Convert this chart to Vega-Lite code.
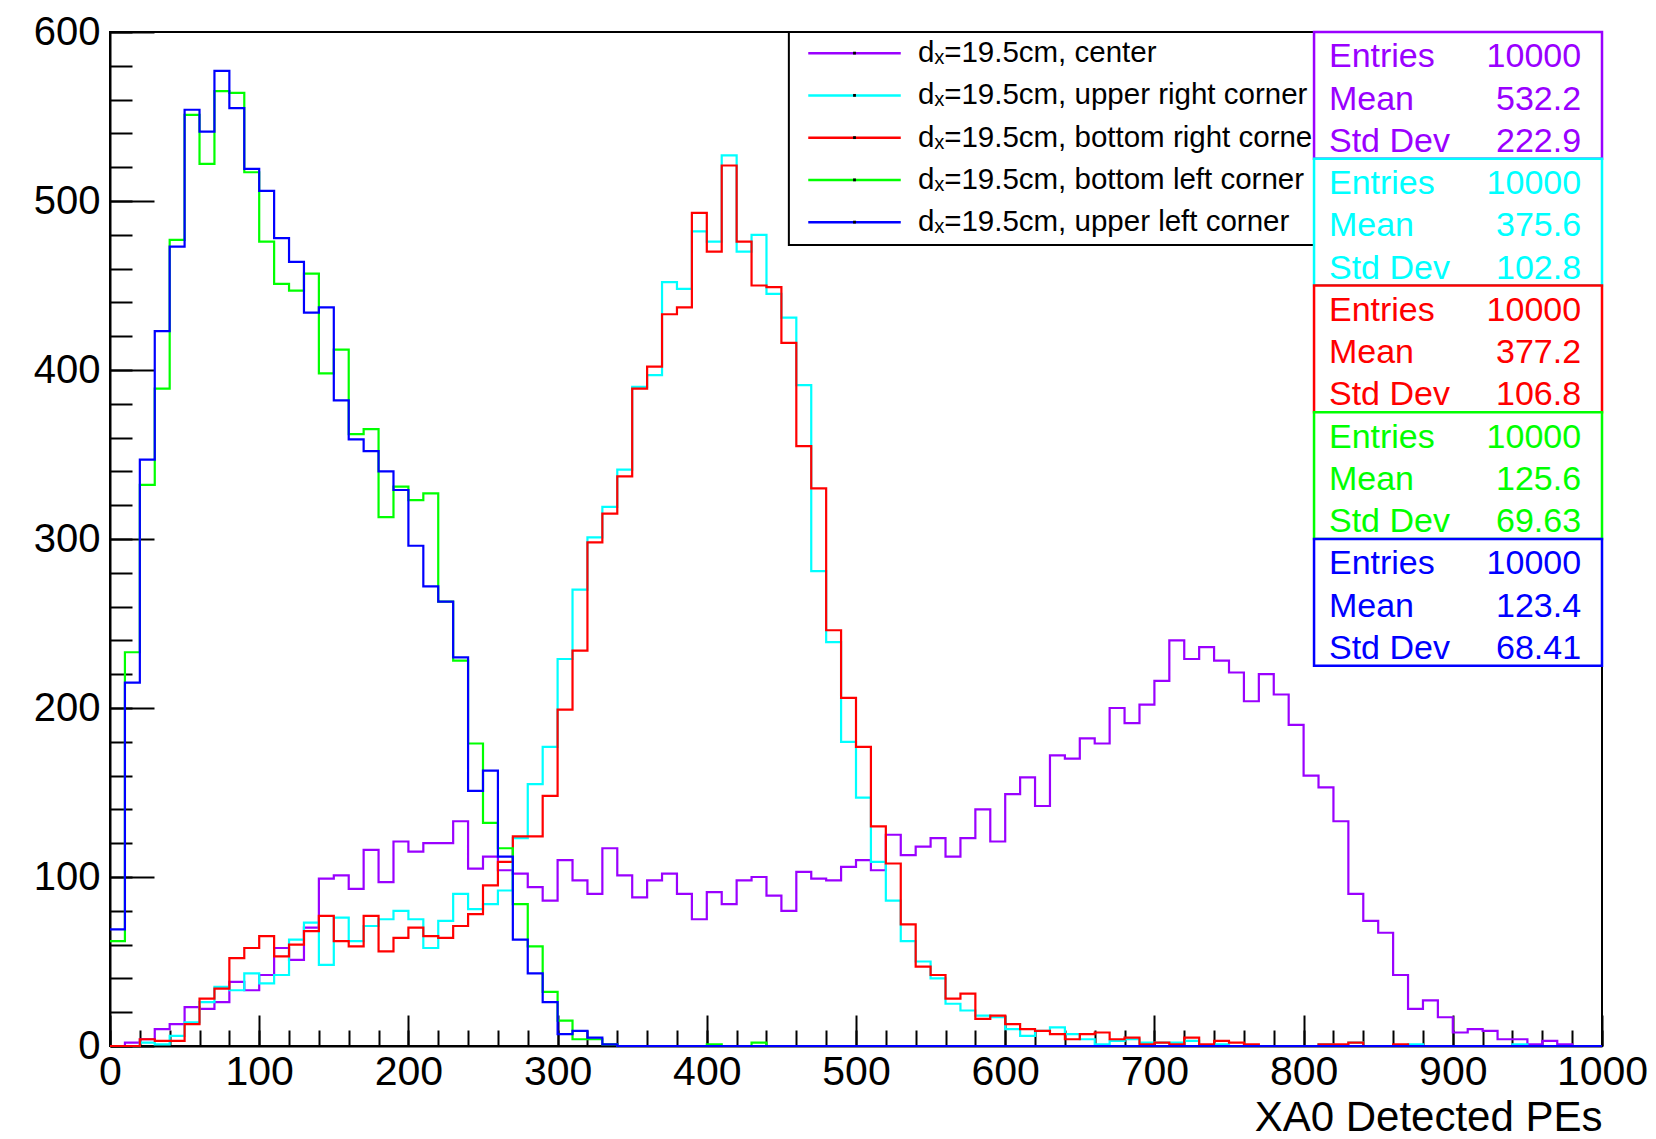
{
  "$schema": "https://vega.github.io/schema/vega-lite/v6.json",
  "width": 1492,
  "height": 1014,
  "autosize": {"type": "none"},
  "padding": {"left": 110, "top": 32, "right": 54, "bottom": 93},
  "background": "white",
  "config": {
    "view": {"stroke": "black", "strokeWidth": 2},
    "font": "Liberation Sans",
    "axis": {"grid": false, "labelFont": "Liberation Sans", "titleFont": "Liberation Sans", "labelColor": "black", "titleColor": "black", "tickColor": "black", "domainColor": "black", "domainWidth": 2, "tickWidth": 2}
  },
  "datasets": {
    "hist": [
      {"pe":0,"center":0,"upper_right":0,"bottom_right":0,"bottom_left":62,"upper_left":69},
      {"pe":10,"center":2,"upper_right":0,"bottom_right":0,"bottom_left":233,"upper_left":215},
      {"pe":20,"center":4,"upper_right":2,"bottom_right":4,"bottom_left":332,"upper_left":347},
      {"pe":30,"center":10,"upper_right":1,"bottom_right":3,"bottom_left":389,"upper_left":423},
      {"pe":40,"center":13,"upper_right":6,"bottom_right":3,"bottom_left":477,"upper_left":473},
      {"pe":50,"center":23,"upper_right":14,"bottom_right":13,"bottom_left":551,"upper_left":554},
      {"pe":60,"center":22,"upper_right":26,"bottom_right":28,"bottom_left":522,"upper_left":541},
      {"pe":70,"center":26,"upper_right":35,"bottom_right":34,"bottom_left":565,"upper_left":577},
      {"pe":80,"center":38,"upper_right":33,"bottom_right":52,"bottom_left":564,"upper_left":555},
      {"pe":90,"center":33,"upper_right":43,"bottom_right":58,"bottom_left":517,"upper_left":519},
      {"pe":100,"center":42,"upper_right":37,"bottom_right":65,"bottom_left":476,"upper_left":506},
      {"pe":110,"center":58,"upper_right":42,"bottom_right":53,"bottom_left":451,"upper_left":478},
      {"pe":120,"center":51,"upper_right":63,"bottom_right":60,"bottom_left":447,"upper_left":464},
      {"pe":130,"center":70,"upper_right":73,"bottom_right":68,"bottom_left":457,"upper_left":434},
      {"pe":140,"center":99,"upper_right":48,"bottom_right":77,"bottom_left":398,"upper_left":437},
      {"pe":150,"center":101,"upper_right":76,"bottom_right":62,"bottom_left":412,"upper_left":382},
      {"pe":160,"center":93,"upper_right":62,"bottom_right":59,"bottom_left":362,"upper_left":359},
      {"pe":170,"center":116,"upper_right":71,"bottom_right":77,"bottom_left":365,"upper_left":352},
      {"pe":180,"center":97,"upper_right":75,"bottom_right":56,"bottom_left":313,"upper_left":340},
      {"pe":190,"center":121,"upper_right":80,"bottom_right":64,"bottom_left":331,"upper_left":329},
      {"pe":200,"center":115,"upper_right":75,"bottom_right":70,"bottom_left":323,"upper_left":296},
      {"pe":210,"center":120,"upper_right":58,"bottom_right":65,"bottom_left":327,"upper_left":272},
      {"pe":220,"center":120,"upper_right":74,"bottom_right":64,"bottom_left":263,"upper_left":263},
      {"pe":230,"center":133,"upper_right":90,"bottom_right":71,"bottom_left":228,"upper_left":230},
      {"pe":240,"center":105,"upper_right":81,"bottom_right":78,"bottom_left":179,"upper_left":151},
      {"pe":250,"center":112,"upper_right":84,"bottom_right":95,"bottom_left":132,"upper_left":163},
      {"pe":260,"center":104,"upper_right":92,"bottom_right":109,"bottom_left":117,"upper_left":112},
      {"pe":270,"center":102,"upper_right":123,"bottom_right":124,"bottom_left":84,"upper_left":63},
      {"pe":280,"center":94,"upper_right":155,"bottom_right":124,"bottom_left":59,"upper_left":43},
      {"pe":290,"center":86,"upper_right":177,"bottom_right":148,"bottom_left":32,"upper_left":26},
      {"pe":300,"center":110,"upper_right":229,"bottom_right":199,"bottom_left":15,"upper_left":7},
      {"pe":310,"center":98,"upper_right":270,"bottom_right":234,"bottom_left":4,"upper_left":9},
      {"pe":320,"center":90,"upper_right":301,"bottom_right":298,"bottom_left":4,"upper_left":5},
      {"pe":330,"center":117,"upper_right":319,"bottom_right":315,"bottom_left":1,"upper_left":1},
      {"pe":340,"center":101,"upper_right":341,"bottom_right":337,"bottom_left":0,"upper_left":0},
      {"pe":350,"center":88,"upper_right":390,"bottom_right":389,"bottom_left":0,"upper_left":0},
      {"pe":360,"center":98,"upper_right":397,"bottom_right":402,"bottom_left":0,"upper_left":0},
      {"pe":370,"center":102,"upper_right":452,"bottom_right":433,"bottom_left":0,"upper_left":0},
      {"pe":380,"center":90,"upper_right":448,"bottom_right":437,"bottom_left":0,"upper_left":0},
      {"pe":390,"center":75,"upper_right":482,"bottom_right":493,"bottom_left":0,"upper_left":0},
      {"pe":400,"center":91,"upper_right":476,"bottom_right":470,"bottom_left":1,"upper_left":0},
      {"pe":410,"center":84,"upper_right":527,"bottom_right":521,"bottom_left":0,"upper_left":0},
      {"pe":420,"center":98,"upper_right":470,"bottom_right":476,"bottom_left":0,"upper_left":0},
      {"pe":430,"center":100,"upper_right":480,"bottom_right":450,"bottom_left":2,"upper_left":0},
      {"pe":440,"center":89,"upper_right":445,"bottom_right":449,"bottom_left":0,"upper_left":0},
      {"pe":450,"center":80,"upper_right":431,"bottom_right":416,"bottom_left":0,"upper_left":0},
      {"pe":460,"center":103,"upper_right":391,"bottom_right":355,"bottom_left":0,"upper_left":0},
      {"pe":470,"center":99,"upper_right":281,"bottom_right":330,"bottom_left":0,"upper_left":0},
      {"pe":480,"center":98,"upper_right":239,"bottom_right":246,"bottom_left":0,"upper_left":0},
      {"pe":490,"center":106,"upper_right":180,"bottom_right":206,"bottom_left":0,"upper_left":0},
      {"pe":500,"center":110,"upper_right":147,"bottom_right":177,"bottom_left":0,"upper_left":0},
      {"pe":510,"center":104,"upper_right":109,"bottom_right":130,"bottom_left":0,"upper_left":0},
      {"pe":520,"center":125,"upper_right":86,"bottom_right":108,"bottom_left":0,"upper_left":0},
      {"pe":530,"center":113,"upper_right":62,"bottom_right":72,"bottom_left":0,"upper_left":0},
      {"pe":540,"center":118,"upper_right":50,"bottom_right":47,"bottom_left":0,"upper_left":0},
      {"pe":550,"center":123,"upper_right":40,"bottom_right":42,"bottom_left":0,"upper_left":0},
      {"pe":560,"center":112,"upper_right":25,"bottom_right":28,"bottom_left":0,"upper_left":0},
      {"pe":570,"center":123,"upper_right":21,"bottom_right":31,"bottom_left":0,"upper_left":0},
      {"pe":580,"center":140,"upper_right":18,"bottom_right":16,"bottom_left":0,"upper_left":0},
      {"pe":590,"center":121,"upper_right":17,"bottom_right":18,"bottom_left":0,"upper_left":0},
      {"pe":600,"center":149,"upper_right":10,"bottom_right":13,"bottom_left":0,"upper_left":0},
      {"pe":610,"center":159,"upper_right":6,"bottom_right":10,"bottom_left":0,"upper_left":0},
      {"pe":620,"center":142,"upper_right":9,"bottom_right":9,"bottom_left":0,"upper_left":0},
      {"pe":630,"center":172,"upper_right":11,"bottom_right":7,"bottom_left":0,"upper_left":0},
      {"pe":640,"center":170,"upper_right":7,"bottom_right":4,"bottom_left":0,"upper_left":0},
      {"pe":650,"center":182,"upper_right":4,"bottom_right":7,"bottom_left":0,"upper_left":0},
      {"pe":660,"center":179,"upper_right":1,"bottom_right":8,"bottom_left":0,"upper_left":0},
      {"pe":670,"center":200,"upper_right":3,"bottom_right":4,"bottom_left":0,"upper_left":0},
      {"pe":680,"center":191,"upper_right":4,"bottom_right":5,"bottom_left":0,"upper_left":0},
      {"pe":690,"center":202,"upper_right":2,"bottom_right":1,"bottom_left":0,"upper_left":0},
      {"pe":700,"center":216,"upper_right":2,"bottom_right":2,"bottom_left":0,"upper_left":0},
      {"pe":710,"center":240,"upper_right":2,"bottom_right":1,"bottom_left":0,"upper_left":0},
      {"pe":720,"center":229,"upper_right":3,"bottom_right":5,"bottom_left":0,"upper_left":0},
      {"pe":730,"center":236,"upper_right":0,"bottom_right":1,"bottom_left":0,"upper_left":0},
      {"pe":740,"center":228,"upper_right":1,"bottom_right":3,"bottom_left":0,"upper_left":0},
      {"pe":750,"center":221,"upper_right":0,"bottom_right":2,"bottom_left":0,"upper_left":0},
      {"pe":760,"center":204,"upper_right":0,"bottom_right":1,"bottom_left":0,"upper_left":0},
      {"pe":770,"center":220,"upper_right":0,"bottom_right":0,"bottom_left":0,"upper_left":0},
      {"pe":780,"center":208,"upper_right":0,"bottom_right":0,"bottom_left":0,"upper_left":0},
      {"pe":790,"center":190,"upper_right":0,"bottom_right":0,"bottom_left":0,"upper_left":0},
      {"pe":800,"center":160,"upper_right":0,"bottom_right":0,"bottom_left":0,"upper_left":0},
      {"pe":810,"center":153,"upper_right":1,"bottom_right":1,"bottom_left":0,"upper_left":0},
      {"pe":820,"center":133,"upper_right":0,"bottom_right":1,"bottom_left":0,"upper_left":0},
      {"pe":830,"center":90,"upper_right":2,"bottom_right":2,"bottom_left":0,"upper_left":0},
      {"pe":840,"center":74,"upper_right":0,"bottom_right":0,"bottom_left":0,"upper_left":0},
      {"pe":850,"center":67,"upper_right":0,"bottom_right":0,"bottom_left":0,"upper_left":0},
      {"pe":860,"center":42,"upper_right":0,"bottom_right":1,"bottom_left":0,"upper_left":0},
      {"pe":870,"center":22,"upper_right":1,"bottom_right":0,"bottom_left":0,"upper_left":0},
      {"pe":880,"center":27,"upper_right":0,"bottom_right":0,"bottom_left":0,"upper_left":0},
      {"pe":890,"center":17,"upper_right":0,"bottom_right":0,"bottom_left":0,"upper_left":0},
      {"pe":900,"center":8,"upper_right":0,"bottom_right":0,"bottom_left":0,"upper_left":0},
      {"pe":910,"center":10,"upper_right":0,"bottom_right":0,"bottom_left":0,"upper_left":0},
      {"pe":920,"center":9,"upper_right":0,"bottom_right":0,"bottom_left":0,"upper_left":0},
      {"pe":930,"center":4,"upper_right":0,"bottom_right":0,"bottom_left":0,"upper_left":0},
      {"pe":940,"center":4,"upper_right":1,"bottom_right":0,"bottom_left":0,"upper_left":0},
      {"pe":950,"center":1,"upper_right":0,"bottom_right":0,"bottom_left":0,"upper_left":0},
      {"pe":960,"center":3,"upper_right":0,"bottom_right":0,"bottom_left":0,"upper_left":0},
      {"pe":970,"center":1,"upper_right":0,"bottom_right":0,"bottom_left":0,"upper_left":0},
      {"pe":980,"center":0,"upper_right":0,"bottom_right":0,"bottom_left":0,"upper_left":0},
      {"pe":990,"center":0,"upper_right":0,"bottom_right":0,"bottom_left":0,"upper_left":0},
      {"pe":1000,"center":0,"upper_right":0,"bottom_right":0,"bottom_left":0,"upper_left":0}
    ],
    "legend": [
      {"series": "center", "label": "dₓ=19.5cm, center"},
      {"series": "upper_right", "label": "dₓ=19.5cm, upper right corner"},
      {"series": "bottom_right", "label": "dₓ=19.5cm, bottom right corner"},
      {"series": "bottom_left", "label": "dₓ=19.5cm, bottom left corner"},
      {"series": "upper_left", "label": "dₓ=19.5cm, upper left corner"}
    ],
    "stats": [
      {"series": "center", "stat": "Entries", "value": "10000"},
      {"series": "center", "stat": "Mean", "value": "532.2"},
      {"series": "center", "stat": "Std Dev", "value": "222.9"},
      {"series": "upper_right", "stat": "Entries", "value": "10000"},
      {"series": "upper_right", "stat": "Mean", "value": "375.6"},
      {"series": "upper_right", "stat": "Std Dev", "value": "102.8"},
      {"series": "bottom_right", "stat": "Entries", "value": "10000"},
      {"series": "bottom_right", "stat": "Mean", "value": "377.2"},
      {"series": "bottom_right", "stat": "Std Dev", "value": "106.8"},
      {"series": "bottom_left", "stat": "Entries", "value": "10000"},
      {"series": "bottom_left", "stat": "Mean", "value": "125.6"},
      {"series": "bottom_left", "stat": "Std Dev", "value": "69.63"},
      {"series": "upper_left", "stat": "Entries", "value": "10000"},
      {"series": "upper_left", "stat": "Mean", "value": "123.4"},
      {"series": "upper_left", "stat": "Std Dev", "value": "68.41"}
    ]
  },
  "layer": [
    {
      "layer": [
        {
          "data": {"name": "hist"},
          "transform": [{"fold": ["center", "upper_right", "bottom_right", "bottom_left", "upper_left"], "as": ["series", "count"]}],
          "mark": {"type": "line", "interpolate": "step-after", "strokeWidth": 2.2},
          "encoding": {
            "x": {"field": "pe", "type": "quantitative", "scale": {"domain": [0, 1000], "nice": false, "zero": false},
              "axis": {"orient": "bottom", "values": [0,100,200,300,400,500,600,700,800,900,1000], "format": "d", "tickSize": -31, "labelPadding": 37, "labelFontSize": 41, "labelFlush": false, "labelOverlap": false, "labelBound": false, "title": "XA0 Detected PEs", "titleFontSize": 42, "titleFontWeight": "normal", "titleAnchor": "end", "titlePadding": 5}},
            "y": {"field": "count", "type": "quantitative", "scale": {"domain": [0, 600], "nice": false},
              "axis": {"orient": "left", "values": [0,100,200,300,400,500,600], "format": "d", "tickSize": -44, "labelPadding": 54, "labelFontSize": 40, "labelFlush": false, "labelOverlap": false, "labelBound": false, "title": null}},
            "color": {"field": "series", "type": "nominal",
              "scale": {"domain": ["center", "upper_right", "bottom_right", "bottom_left", "upper_left"], "range": ["#9a00ff", "#00ffff", "#ff0000", "#00ff00", "#0000ff"]},
              "legend": null}
          }
        },
        {
          "data": {"values": [{}]},
          "mark": {"type": "rect", "fill": "white", "stroke": "black", "strokeWidth": 2},
          "encoding": {
            "x": {"datum": 455, "type": "quantitative",
              "axis": {"orient": "bottom", "values": [0,20,40,60,80,100,120,140,160,180,200,220,240,260,280,300,320,340,360,380,400,420,440,460,480,500,520,540,560,580,600,620,640,660,680,700,720,740,760,780,800,820,840,860,880,900,920,940,960,980,1000], "tickSize": -16, "labels": false, "domain": false, "title": null}},
            "x2": {"datum": 810},
            "y": {"datum": 600, "type": "quantitative",
              "axis": {"orient": "left", "values": [0,20,40,60,80,100,120,140,160,180,200,220,240,260,280,300,320,340,360,380,400,420,440,460,480,500,520,540,560,580,600], "tickSize": -22, "labels": false, "domain": false, "title": null}},
            "y2": {"datum": 474}
          }
        }
      ],
      "resolve": {"axis": {"x": "independent", "y": "independent"}}
    },
    {
      "data": {"name": "legend"},
      "encoding": {
        "y": {"field": "series", "type": "nominal", "bandPosition": 0.5,
          "scale": {"type": "band", "domain": ["center", "upper_right", "bottom_right", "bottom_left", "upper_left", "p1","p2","p3","p4","p5","p6","p7","p8","p9","p10","p11","p12","p13","p14","p15","p16","p17","p18","p19"], "paddingInner": 0, "paddingOuter": 0},
          "axis": null}
      },
      "layer": [
        {
          "mark": {"type": "rule", "strokeWidth": 2.5},
          "encoding": {
            "x": {"datum": 468, "type": "quantitative", "axis": null},
            "x2": {"datum": 530},
            "color": {"field": "series", "type": "nominal", "legend": null}
          }
        },
        {
          "mark": {"type": "point", "filled": true, "color": "black", "size": 8, "shape": "square", "opacity": 1},
          "encoding": {"x": {"datum": 499, "type": "quantitative", "axis": null}}
        },
        {
          "mark": {"type": "text", "align": "left", "baseline": "middle", "fontSize": 29.5, "color": "black", "font": "Liberation Sans"},
          "encoding": {
            "x": {"datum": 541.6, "type": "quantitative", "axis": null},
            "text": {"field": "label"}
          }
        }
      ]
    },
    {
      "encoding": {
        "y": {"field": "series", "type": "nominal",
          "scale": {"type": "band", "domain": ["center", "upper_right", "bottom_right", "bottom_left", "upper_left", "q1", "q2", "q3"], "paddingInner": 0, "paddingOuter": 0},
          "axis": null}
      },
      "layer": [
        {
          "data": {"name": "legend"},
          "mark": {"type": "bar", "fill": "white", "strokeWidth": 2.5},
          "encoding": {
            "x": {"datum": 807, "type": "quantitative", "axis": null},
            "x2": {"datum": 1000},
            "stroke": {"field": "series", "type": "nominal",
              "scale": {"domain": ["center", "upper_right", "bottom_right", "bottom_left", "upper_left"], "range": ["#9a00ff", "#00ffff", "#ff0000", "#00ff00", "#0000ff"]},
              "legend": null}
          }
        },
        {
          "data": {"name": "stats"},
          "mark": {"type": "text", "align": "left", "baseline": "middle", "fontSize": 34, "font": "Liberation Sans"},
          "encoding": {
            "x": {"datum": 817, "type": "quantitative", "axis": null},
            "yOffset": {"field": "stat", "type": "nominal", "scale": {"type": "band", "domain": ["Entries", "Mean", "Std Dev"], "paddingInner": 1, "paddingOuter": 0.5, "align": 0.6}},
            "text": {"field": "stat"},
            "color": {"field": "series", "type": "nominal", "legend": null}
          }
        },
        {
          "data": {"name": "stats"},
          "mark": {"type": "text", "align": "right", "baseline": "middle", "fontSize": 34, "font": "Liberation Sans"},
          "encoding": {
            "x": {"datum": 986, "type": "quantitative", "axis": null},
            "yOffset": {"field": "stat", "type": "nominal", "scale": {"type": "band", "domain": ["Entries", "Mean", "Std Dev"], "paddingInner": 1, "paddingOuter": 0.5, "align": 0.6}},
            "text": {"field": "value"},
            "color": {"field": "series", "type": "nominal", "legend": null}
          }
        }
      ]
    }
  ],
  "resolve": {"scale": {"y": "independent"}, "axis": {"x": "independent", "y": "independent"}}
}
